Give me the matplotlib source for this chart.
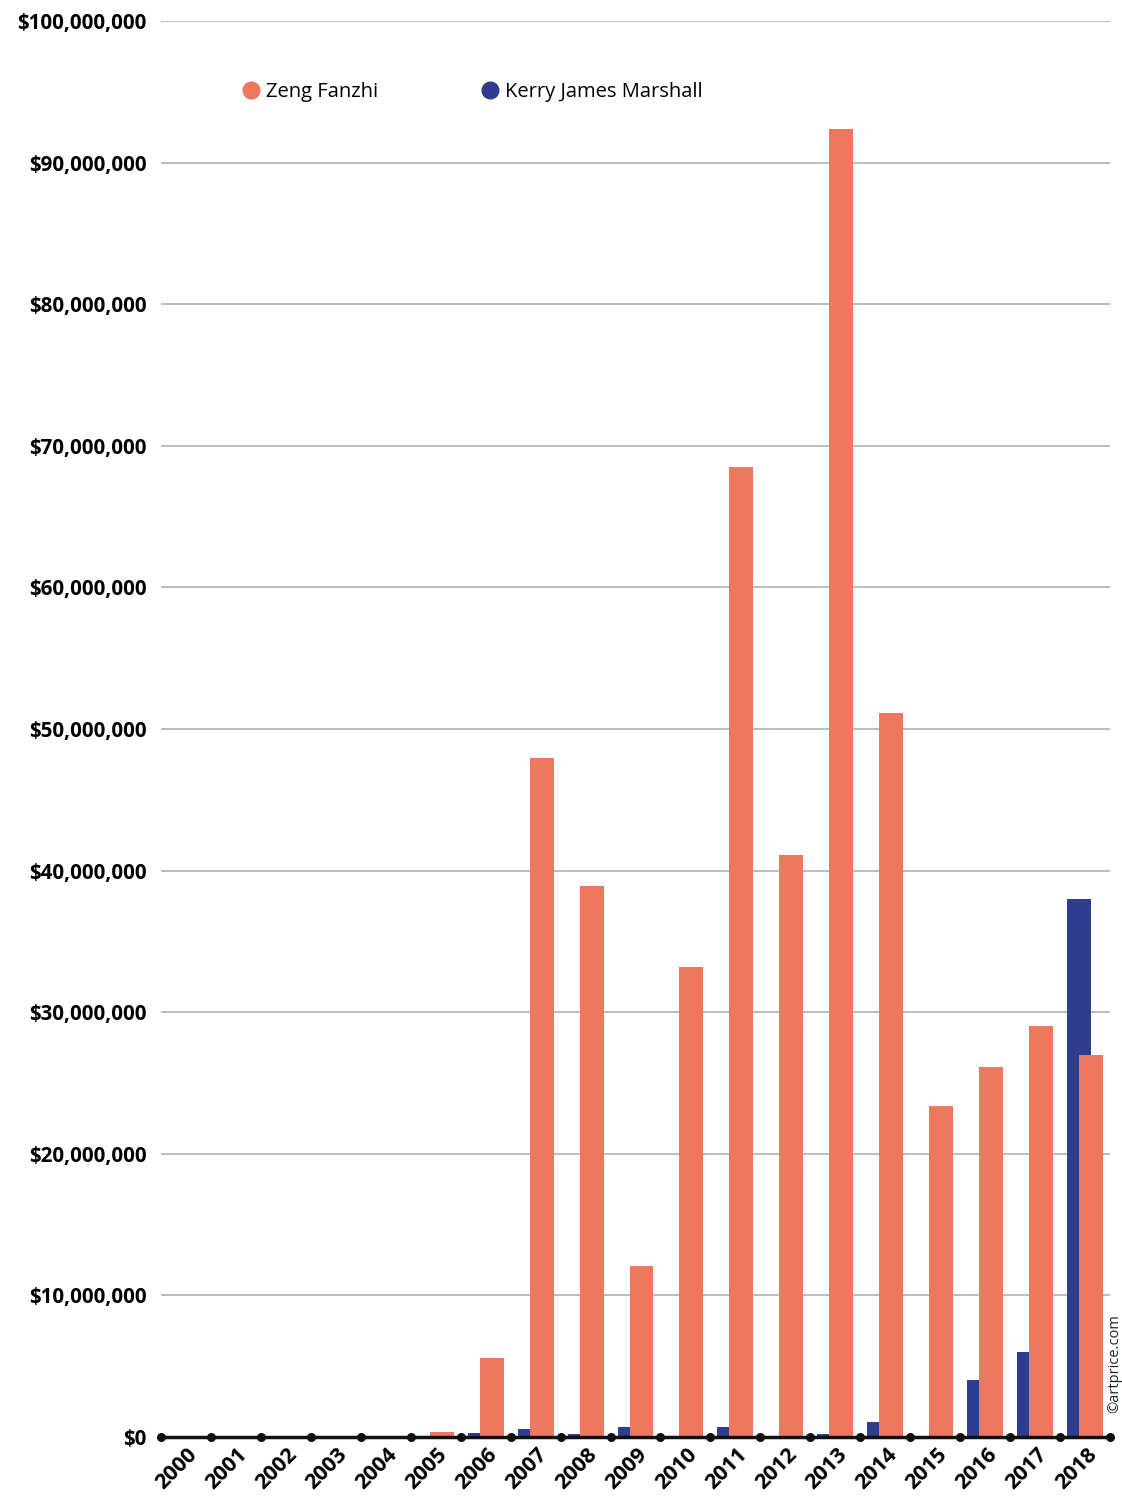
import matplotlib.pyplot as plt
import matplotlib.transforms as mtransforms
from matplotlib.lines import Line2D
from matplotlib.ticker import FuncFormatter
import numpy as np

plt.rcParams['font.family'] = ['Open Sans', 'DejaVu Sans']

years = [str(y) for y in range(2000, 2019)]
# auction turnover, in millions of USD
zeng = [0, 0, 0, 0, 0, 0.35, 5.6, 47.95, 38.9, 12.1, 33.2, 68.5, 41.1, 92.4,
        51.1, 23.4, 26.1, 29.0, 27.0]
marshall = [0, 0, 0, 0, 0, 0, 0.28, 0.56, 0.2, 0.7, 0, 0.7, 0, 0.2,
            1.06, 0, 4.0, 6.0, 38.0]

orange = '#ee775e'
blue = '#2e3d8e'
fontsize = 14.8

fig = plt.figure(figsize=(11.22, 15), dpi=100)
ax = fig.add_axes([161/1122, 1 - 1437/1500, (1110 - 161)/1122, (1437 - 21)/1500])

x = np.arange(len(years))
ax.bar(x - 0.12, np.array(marshall) * 1e6, width=0.48, color=blue, zorder=2)
ax.bar(x + 0.12, np.array(zeng) * 1e6, width=0.48, color=orange, zorder=3)

ax.set_xlim(-0.5, len(years) - 0.5)
ax.set_ylim(0, 100e6)
ax.set_yticks(np.arange(0, 100e6 + 1, 10e6))
ax.yaxis.set_major_formatter(FuncFormatter(lambda v, p: '${:,.0f}'.format(v)))
ax.grid(axis='y', color='#aaaaaa', lw=1.1, zorder=0)
ax.set_axisbelow(True)

for s in ['top', 'right', 'left']:
    ax.spines[s].set_visible(False)
ax.spines['bottom'].set_color('#111111')
ax.spines['bottom'].set_linewidth(2.5)
ax.spines['bottom'].set_zorder(4)

# dots on the category boundaries
ax.plot(np.arange(len(years) + 1) - 0.5, np.zeros(len(years) + 1), 'o',
        color='#111111', ms=5.5, clip_on=False, zorder=5)

ax.tick_params(axis='y', length=0, pad=10.5, labelsize=fontsize)
for lab in ax.get_yticklabels():
    lab.set_fontweight('bold')
ax.set_xticks(x)
ax.set_xticklabels(years, rotation=45, ha='right', va='top', rotation_mode='anchor',
                   fontsize=15.5, fontweight='bold')
ax.tick_params(axis='x', length=0, pad=5)
offset = mtransforms.ScaledTranslation(1/100, 0, fig.dpi_scale_trans)
for lab in ax.get_xticklabels():
    lab.set_transform(lab.get_transform() + offset)

handles = [Line2D([], [], marker='o', ls='', color=orange, ms=12),
           Line2D([], [], marker='o', ls='', color=blue, ms=12)]
ax.legend(handles, ['Zeng Fanzhi', 'Kerry James Marshall'], loc='center left',
          bbox_to_anchor=(0.063, 0.95), ncol=2, frameon=False, fontsize=14.5,
          handletextpad=0.15, columnspacing=4.95, handlelength=1.2)

fig.text(1115/1122, 1 - 1364/1500, '©artprice.com', rotation=90, ha='center',
         va='center', fontsize=10.5, color='#222222')

fig.savefig('out.png', dpi=100, facecolor='white')
